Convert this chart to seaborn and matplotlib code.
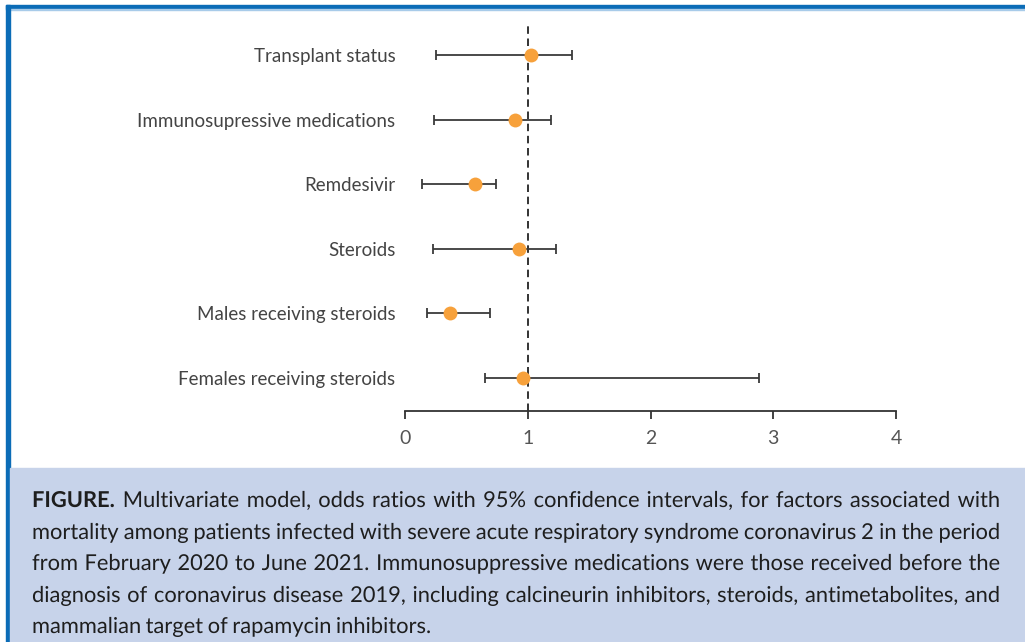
import numpy as np
import pandas as pd
import seaborn as sns
import matplotlib.pyplot as plt
import matplotlib.patheffects as pe
from matplotlib.patches import Rectangle

# odds ratios with 95% CI
factors = ['Transplant status', 'Immunosupressive medications', 'Remdesivir',
           'Steroids', 'Males receiving steroids', 'Females receiving steroids']
odds_ratio = [1.03, 0.90, 0.57, 0.93, 0.37, 0.96]
ci_low = [0.25, 0.24, 0.14, 0.23, 0.18, 0.65]
ci_high = [1.36, 1.19, 0.74, 1.23, 0.69, 2.88]
x_ticks = [0, 1, 2, 3, 4]

caption_lines = [
    'FIGURE. Multivariate model, odds ratios with 95% confidence intervals, for factors associated with',
    'mortality among patients infected with severe acute respiratory syndrome coronavirus 2 in the period',
    'from February 2020 to June 2021. Immunosuppressive medications were those received before the',
    'diagnosis of coronavirus disease 2019, including calcineurin inhibitors, steroids, antimetabolites, and',
    'mammalian target of rapamycin inhibitors.',
]

df = pd.DataFrame({'factor': factors, 'odds_ratio': odds_ratio,
                   'ci_low': ci_low, 'ci_high': ci_high})

sns.set_style('white')
plt.rcParams['font.family'] = ['Lato', 'DejaVu Sans']

W, H = 1025, 642
fig = plt.figure(figsize=(W / 100, H / 100), dpi=100)

# frame: blue rules on top and left, shaded caption box
fig.patches.append(Rectangle((6 / W, 1 - 9 / H), 1, 4 / H, transform=fig.transFigure,
                             color='#0b6cb7', zorder=0))
fig.patches.append(Rectangle((6 / W, 1 - 10 / H), 1, 1 / H, transform=fig.transFigure,
                             color='#a8cbe9', zorder=0))
fig.patches.append(Rectangle((6 / W, 0), 4 / W, 1 - 5 / H, transform=fig.transFigure,
                             color='#0b6cb7', zorder=0))
fig.patches.append(Rectangle((10 / W, 0), 1, (H - 468) / H, transform=fig.transFigure,
                             color='#c7d3ea', zorder=0))

ax = fig.add_axes([405 / W, 1 - 411 / H, (896 - 405) / W, (411 - 22) / H])
ax.patch.set_alpha(0)

ax.axvline(1, color='#111111', lw=1.2, ls=(0, (4.5, 2.8)), zorder=1)
ax.errorbar(df['odds_ratio'], np.arange(len(df)),
            xerr=[df['odds_ratio'] - df['ci_low'], df['ci_high'] - df['odds_ratio']],
            fmt='none', ecolor='#3a3a3a', elinewidth=1.3, capsize=3.5, capthick=1.3, zorder=2)
sns.stripplot(data=df, x='odds_ratio', y='factor', jitter=False, size=10,
              color='#f7a13b', linewidth=0, zorder=3, ax=ax)

ax.set_xlim(0, 4)
ax.set_ylim(len(df) - 0.49, -0.51)
ax.set_xticks(x_ticks)
ax.set_xticklabels([str(t) for t in x_ticks])
ax.set_xlabel('')
ax.set_ylabel('')
sns.despine(ax=ax, left=True)
ax.spines['bottom'].set_color('#333333')
ax.spines['bottom'].set_linewidth(1.3)
ax.tick_params(axis='x', length=6, width=1.3, color='#333333', labelsize=14,
               labelcolor='#555555', pad=8, direction='out', bottom=True)
ax.tick_params(axis='y', length=0, labelsize=13.5, labelcolor='#444444', pad=7)

# caption, justified by hand; shrink the font until every line fits
# (words drawn as paths so that they all sit on the same baseline)
renderer = fig.canvas.get_renderer()
x0, x1 = 32, 1000
baselines = [507, 539, 570, 602, 633]


def place_caption(fs):
    placed = []
    min_gap = 99
    for i, line in enumerate(caption_lines):
        words = line.split()
        texts = []
        for j, w in enumerate(words):
            bold = (i == 0 and j == 0)
            texts.append(fig.text(0, 1 - baselines[i] / H, w, fontsize=fs,
                                  fontweight='bold' if bold else 'normal',
                                  color='#1e1e1e', va='baseline', ha='left',
                                  path_effects=[pe.Normal()]))
        widths = [t.get_window_extent(renderer).width for t in texts]
        if i < len(caption_lines) - 1:
            gap = (x1 - x0 - sum(widths)) / (len(words) - 1)
            min_gap = min(min_gap, gap)
        else:
            gap = fs * 0.3
        x = x0
        for t, w in zip(texts, widths):
            t.set_x(x / W)
            x += w + gap
        placed += texts
    return placed, min_gap


cap_fs = 16.0
while True:
    placed, min_gap = place_caption(cap_fs)
    if min_gap >= 4.5 or cap_fs < 11:
        break
    for t in placed:
        t.remove()
    cap_fs -= 0.25
print('caption font', cap_fs, 'min gap', round(min_gap, 2))

fig.savefig('out.png', dpi=100)
